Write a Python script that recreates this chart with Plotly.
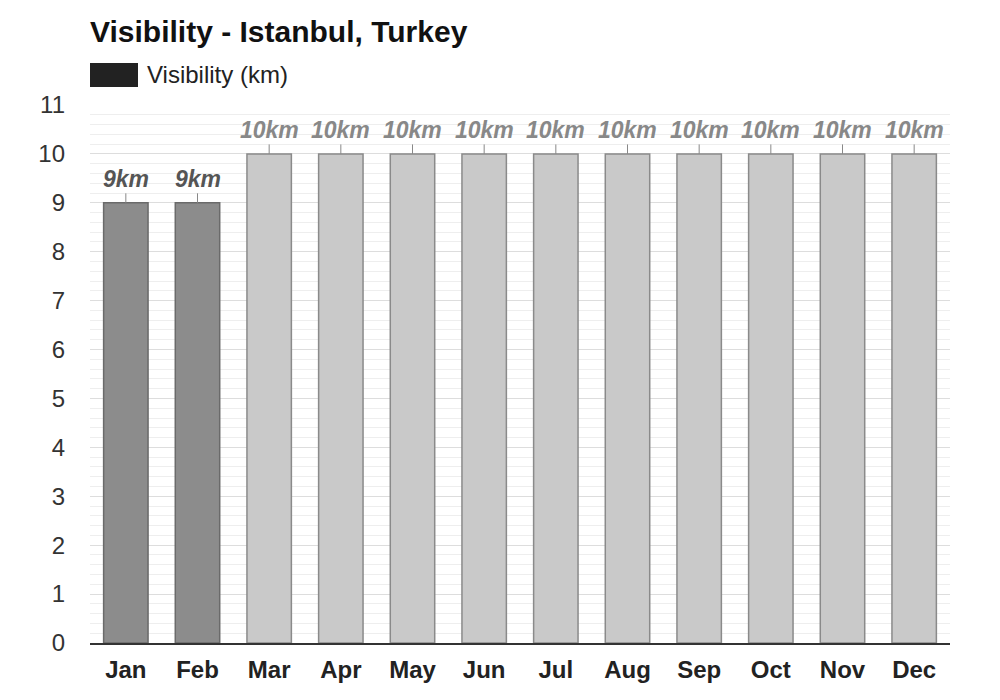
import plotly.graph_objects as go

# データ
months      = ['Jan', 'Feb', 'Mar', 'Apr', 'May', 'Jun', 'Jul', 'Aug', 'Sep', 'Oct', 'Nov', 'Dec']
visibility  = [9, 9, 10, 10, 10, 10, 10, 10, 10, 10, 10, 10]
bar_labels  = ['9km', '9km', '10km', '10km', '10km', '10km', '10km', '10km', '10km', '10km', '10km', '10km']
y_ticks     = list(range(0, 12))

font_family = '"Liberation Sans", Arial, sans-serif'
off = 8  # ページ余白 (body margin) の補正

# 値で色分け (9km は濃いグレー)
fill_colors  = ['#8c8c8c' if v < 10 else '#c9c9c9' for v in visibility]
line_colors  = ['#6a6a6a' if v < 10 else '#8a8a8a' for v in visibility]
label_colors = ['#555555' if v < 10 else '#888888' for v in visibility]

fig = go.Figure()
fig.add_trace(go.Bar(
    x            = months,
    y            = visibility,
    name         = 'Visibility (km)',
    marker       = {'color': fill_colors, 'line': {'color': line_colors, 'width': 1.5}},
    showlegend   = False,
    hoverinfo    = 'skip',
))

# 値ラベル (小さな引き出し線付き)
for m, v, t, c in zip(months, visibility, bar_labels, label_colors):
    fig.add_annotation(
        x = m, y = v, text = '<b><i>' + t + '</i></b>',
        showarrow = True, arrowhead = 0, arrowwidth = 1, arrowcolor = '#888888',
        ax = 0, ay = -24, standoff = 0,
        font = {'size': 23, 'color': c, 'family': font_family},
    )

# 凡例 (手描き)
plot_h = 538
fig.add_shape(type='rect', xref='paper', yref='paper',
              x0=0, x1=48/860, y0=1 + (105-87)/plot_h, y1=1 + (105-63)/plot_h,
              fillcolor='#222222', line={'width': 0})
fig.add_annotation(xref='paper', yref='paper', x=55/860, y=1 + (105-75)/plot_h,
                   xanchor='left', yanchor='middle', showarrow=False,
                   text='Visibility (km)', font={'size': 24, 'color': '#222222', 'family': font_family})

fig.update_layout(
    width  = 1000,
    height = 700,
    margin = {'l': 90 - off, 'r': 50 + off, 't': 105 - off, 'b': 57 + off},
    paper_bgcolor = 'white',
    plot_bgcolor  = 'white',
    font   = {'family': font_family, 'color': '#333333'},
    bargap = 0.38,
    title  = {
        'text':    '<b>Visibility - Istanbul, Turkey</b>',
        'font':    {'size': 30, 'color': '#111111', 'family': font_family},
        'xref':    'container', 'yref': 'container',
        'x':       (90 - off)/1000, 'xanchor': 'left',
        'y':       1 - (21 - off)/700, 'yanchor': 'top',
    },
)
fig.update_xaxes(
    showgrid = False,
    showline = True, linecolor = '#333333', linewidth = 1.5,
    ticks = '',
    tickfont = {'size': 24, 'color': '#222222'},
    ticklabelstandoff = 4,
    tickprefix = '<b>', ticksuffix = '</b>',
)
fig.update_yaxes(
    range = [0, 11],
    tickvals = y_ticks,
    showgrid = True, gridcolor = '#dddddd', gridwidth = 1,
    minor = {'dtick': 0.2, 'showgrid': True, 'gridcolor': '#eeeeee', 'gridwidth': 1},
    zeroline = False,
    ticks = '',
    tickfont = {'size': 24, 'color': '#333333'},
    ticklabelstandoff = 24,
    fixedrange = True,
)

fig.write_html("out.html")
